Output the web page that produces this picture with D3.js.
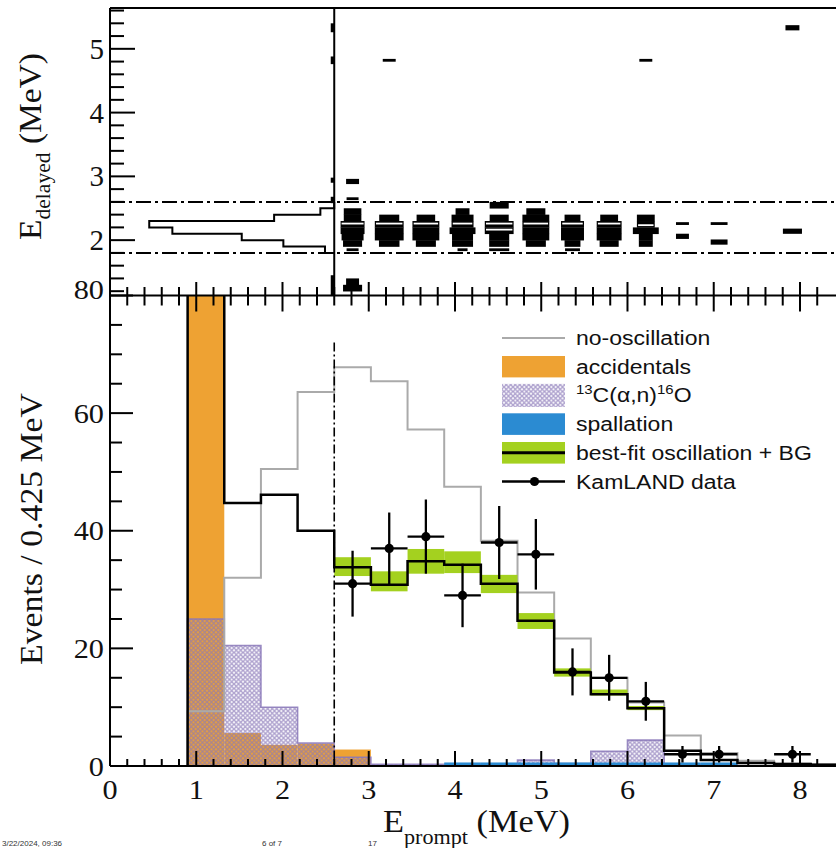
<!DOCTYPE html>
<html><head><meta charset="utf-8">
<script src="https://cdn.jsdelivr.net/npm/d3@7"></script>
<style>body{margin:0;background:#fff} svg{display:block}</style>
</head><body>
<svg id="c" width="836" height="848"></svg>
<script>
// ================= DATA =================
const binStart = 0.9, binWidth = 0.425;          // E_prompt bins (MeV)
const noOscillation = [9.3, 32.0, 50.5, 63.6, 67.8, 65.4, 57.2, 47.5, 38.3, 29.5, 21.7, 15.0, 10.8, 5.2, 2.2, 0.9, 0.5, 0.3];
const accidentals   = [140, 5.6, 3.6, 3.8, 2.8, 0.1, 0.1, 0.1, 0.1, 0.1, 0.1, 0.1, 0.1, 0, 0, 0, 0, 0];
const c13an         = [25.0, 20.5, 10.0, 3.9, 1.5, 0.3, 0.3, 0.3, 0.3, 1.0, 0.4, 2.5, 4.4, 0.3, 0.1, 0, 0, 0];
const spallation    = [0, 0, 0, 0, 0, 0, 0, 0.6, 0.6, 0.6, 0.6, 0.6, 0.6, 0.6, 0.6, 0, 0, 0];
const bestFit       = [180, 44.7, 46.1, 40.0, 33.8, 30.8, 34.8, 34.2, 31.0, 24.7, 15.9, 12.2, 9.8, 2.6, 1.0, 0.5, 0.3, 0.2];
const bandLow       = [null, null, null, null, 32.3, 29.7, 32.7, 32.8, 29.4, 23.3, 15.2, 12.0, 9.5, null, null, null, null, null];
const bandHigh      = [null, null, null, null, 35.5, 33.1, 36.9, 36.5, 32.5, 26.0, 16.6, 13.0, 10.2, null, null, null, null, null];
const dataBins   = [4, 5, 6, 7, 8, 9, 10, 11, 12, 13, 14, 16];
const dataCounts = [31, 37, 39, 29, 38, 36, 16, 15, 11, 2, 2, 2];
const dataErrors = [5.6, 6.1, 6.3, 5.4, 6.2, 6.0, 4.0, 3.9, 3.3, 1.4, 1.4, 1.4];

// delayed-energy projection (0.1 MeV bins from 1.8 to 2.6)
const projLowEdges = [1.8, 1.9, 2.0, 2.1, 2.2, 2.3, 2.4, 2.5];
const projCounts   = [2, 11, 20, 35, 40, 13, 3, 0];

// prompt-delayed box histogram: [E_prompt bin, E_delayed low edge (0.1 MeV cells), content]
const boxCells = [
  [4,2.4,7.2],[4,2.3,7.2],[4,2.2,9.8],[4,2.1,9.8],[4,2.0,9.0],[4,1.9,7.8],[4,1.3,5.3],[4,1.2,7.8],
  [5,2.3,8.2],[5,2.2,11.8],[5,2.1,11.8],[5,2.0,11.8],[5,1.9,8.4],
  [6,2.3,7.6],[6,2.2,11.0],[6,2.1,11.0],[6,2.0,11.0],[6,1.9,8.2],
  [7,2.4,5.7],[7,2.3,9.0],[7,2.2,9.0],[7,2.1,10.6],[7,2.0,8.6],[7,1.9,8.6],
  [8,2.5,7.8],[8,2.3,7.8],[8,2.2,11.8],[8,2.1,11.8],[8,2.0,8.2],[8,1.9,8.2],
  [9,2.4,7.8],[9,2.3,11.0],[9,2.2,11.0],[9,2.1,11.0],[9,2.0,11.0],[9,1.9,8.2],
  [10,2.3,6.5],[10,2.2,9.4],[10,2.1,9.4],[10,2.0,9.4],[10,1.9,6.5],
  [11,2.3,7.3],[11,2.2,10.2],[11,2.1,10.2],[11,2.0,10.2],[11,1.9,7.8],
  [12,2.3,7.3],[12,2.2,7.3],[12,2.1,10.6],[12,2.0,5.7],[12,1.9,5.7]
];
// isolated events: [E_prompt bin, E_delayed, content, events]
const singleEvents = [
  [4,2.92,5.3,2],[4,2.65,4.9,1],[4,1.85,4.9,1],[5,4.82,5.3,1],[7,1.85,4.1,1],[8,1.85,8.2,1],
  [10,1.85,6.1,1],[12,4.82,5.3,1],[13,2.26,5.3,1],[13,2.06,5.3,2],[14,2.26,6.9,1],[14,1.97,6.9,2],
  [16,2.14,7.8,2],[16,5.33,5.7,2]
];
// light separations inside boxes: [E_prompt bin, E_delayed, content]
const whiteLines = [[4,2.26,9.0],[5,2.26,10.8],[6,2.26,10.0],[7,2.26,8.0],[8,2.26,10.8],[8,2.165,10.8],
  [9,2.26,10.0],[10,2.26,8.4],[11,2.26,9.2],[12,2.235,6.3]];
// marks on the E_prompt = 2.6 line: [low, high] E_delayed
const edgeMarks = [[5.26,5.40],[4.76,4.88],[2.90,2.98],[2.58,2.68],[1.14,1.45]];

const promptCut = 2.6, delayedCuts = [1.8, 2.6];
const xTickLabels = [0,1,2,3,4,5,6,7,8];
const yBotTickLabels = [0,20,40,60,80];
const yTopTickLabels = [2,3,4,5];
const legendItems = ["no-oscillation","accidentals","13C","spallation","best-fit oscillation + BG","KamLAND data"];
const footerTexts = ["3/22/2024, 09:36", "6 of 7", "17"];

// ================= DRAW =================
const svg = d3.select("#c");
const SERIF = "'Liberation Serif','Times New Roman',serif";
const SANS = "'Liberation Sans',Arial,sans-serif";
const orange = "#eea233", purple = "#8a78b8", blue = "#2b8bd2", green = "#a4d11f", grey = "#aaaaaa";

const x = d3.scaleLinear().domain([0, 8.5]).range([110, 843.1]);
const yTop = d3.scaleLinear().domain([1.14, 5.64]).range([295, 8]);
const yBot = d3.scaleLinear().domain([0, 80]).range([766, 295.5]);
const edge = i => binStart + i * binWidth;
const bw = x(binWidth) - x(0);
const boxScale = d3.scaleLinear().domain([0, 15]).range([0, bw]);
const projScale = d3.scaleLinear().domain([0, 40]).range([0, 185]);

function stretch(sel, f) {
  sel.each(function(){ const L = this.getComputedTextLength(); this.setAttribute("textLength", L*f); this.setAttribute("lengthAdjust","spacingAndGlyphs"); });
}

const defs = svg.append("defs");
defs.append("clipPath").attr("id","cb").append("rect").attr("x",110).attr("y",295.5).attr("width",740).attr("height",470.5);
defs.append("clipPath").attr("id","ct").append("rect").attr("x",110).attr("y",8).attr("width",740).attr("height",287);
const pat = defs.append("pattern").attr("id","hatch").attr("patternUnits","userSpaceOnUse").attr("width",4.5).attr("height",4.5);
pat.append("path").attr("d","M0,0L4.5,4.5M4.5,0L0,4.5").attr("stroke",purple).attr("stroke-width",1.4).attr("opacity",0.7);

// ---------- bottom panel ----------
const gb = svg.append("g").attr("clip-path","url(#cb)");
const idx = d3.range(noOscillation.length);
gb.selectAll(".acc").data(idx).join("rect")
  .attr("x", i=>x(edge(i))).attr("width", bw).attr("y", i=>yBot(accidentals[i])).attr("height", i=>yBot(0)-yBot(accidentals[i])).attr("fill", orange);
gb.selectAll(".c13").data(idx.filter(i=>c13an[i]>0)).join("rect")
  .attr("x", i=>x(edge(i))).attr("width", bw).attr("y", i=>yBot(c13an[i])).attr("height", i=>yBot(0)-yBot(c13an[i])).attr("fill","url(#hatch)");
function stepPts(vals) {
  const pts = [[x(edge(0)), yBot(0)]];
  vals.forEach((v,i)=>{ pts.push([x(edge(i)), yBot(v)]); pts.push([x(edge(i+1)), yBot(v)]); });
  pts.push([x(edge(vals.length)), yBot(0)]);
  return pts;
}
const line = d3.line();
gb.append("path").attr("d", line(stepPts(c13an))).attr("fill","none").attr("stroke",purple).attr("stroke-width",1.6).attr("opacity",0.85);
gb.selectAll(".sp").data(idx.filter(i=>spallation[i]>0)).join("rect")
  .attr("x", i=>x(edge(i))).attr("width", bw).attr("y", i=>yBot(spallation[i])).attr("height", i=>yBot(0)-yBot(spallation[i])).attr("fill", blue);
gb.append("path").attr("d", line(stepPts(noOscillation))).attr("fill","none").attr("stroke",grey).attr("stroke-width",2);
gb.selectAll(".band").data(idx.filter(i=>bandLow[i]!==null)).join("rect")
  .attr("x", i=>x(edge(i))).attr("width", bw).attr("y", i=>yBot(bandHigh[i])).attr("height", i=>yBot(bandLow[i])-yBot(bandHigh[i])).attr("fill", green);
gb.append("path").attr("d", line(stepPts(bestFit))).attr("fill","none").attr("stroke","#000").attr("stroke-width",2.5);
gb.append("line").attr("x1",x(promptCut)).attr("x2",x(promptCut)).attr("y1",yBot(72)).attr("y2",yBot(0))
  .attr("stroke","#000").attr("stroke-width",1.6).attr("stroke-dasharray","9,3,2,3");
const dp = gb.append("g");
dataBins.forEach((k,j)=>{
  const cx = x(edge(k)+binWidth/2), cy = yBot(dataCounts[j]);
  dp.append("line").attr("x1",x(edge(k))).attr("x2",x(edge(k+1))).attr("y1",cy).attr("y2",cy).attr("stroke","#000").attr("stroke-width",2.3);
  dp.append("line").attr("x1",cx).attr("x2",cx).attr("y1",yBot(dataCounts[j]+dataErrors[j])).attr("y2",yBot(Math.max(0,dataCounts[j]-dataErrors[j]))).attr("stroke","#000").attr("stroke-width",2.3);
  dp.append("circle").attr("cx",cx).attr("cy",cy).attr("r",4.6).attr("fill","#000");
});

// legend
const lg = svg.append("g");
const lx0 = 502, lx1 = 565, ltx = 576, ly0 = 338, lstep = 28.7;
legendItems.forEach((name,i)=>{
  const cy = ly0 + i*lstep;
  if (i===0) lg.append("line").attr("x1",lx0).attr("x2",lx1).attr("y1",cy).attr("y2",cy).attr("stroke",grey).attr("stroke-width",2);
  if (i===1) lg.append("rect").attr("x",lx0).attr("y",cy-10.7).attr("width",lx1-lx0).attr("height",21.4).attr("fill",orange);
  if (i===2) lg.append("rect").attr("x",lx0).attr("y",cy-11.5).attr("width",lx1-lx0).attr("height",23).attr("fill","url(#hatch)");
  if (i===3) lg.append("rect").attr("x",lx0).attr("y",cy-10.8).attr("width",lx1-lx0).attr("height",21.6).attr("fill",blue);
  if (i===4) { lg.append("rect").attr("x",lx0).attr("y",cy-10.8).attr("width",lx1-lx0).attr("height",21.6).attr("fill",green);
               lg.append("line").attr("x1",lx0).attr("x2",lx1).attr("y1",cy).attr("y2",cy).attr("stroke","#000").attr("stroke-width",3); }
  if (i===5) { lg.append("line").attr("x1",lx0).attr("x2",lx1).attr("y1",cy).attr("y2",cy).attr("stroke","#000").attr("stroke-width",2.3);
               lg.append("circle").attr("cx",(lx0+lx1)/2+1).attr("cy",cy).attr("r",4.6).attr("fill","#000"); }
  const t = lg.append("text").attr("x",ltx).attr("y",cy+7).attr("font-family",SANS).attr("font-size",20).attr("fill","#111");
  if (i===2) {
    t.append("tspan").text("13").attr("font-size",13).attr("dy",-8);
    t.append("tspan").text("C(α,n)").attr("font-size",20).attr("dy",8);
    t.append("tspan").text("16").attr("font-size",13).attr("dy",-8);
    t.append("tspan").text("O").attr("font-size",20).attr("dy",8);
  } else t.text(name);
  stretch(t, 1.15);
});

// axes
const ax = svg.append("g").attr("stroke","#000").attr("stroke-width",2);
ax.append("line").attr("x1",110).attr("x2",843).attr("y1",766).attr("y2",766);
ax.append("line").attr("x1",110).attr("x2",110).attr("y1",8).attr("y2",766);
ax.append("line").attr("x1",110).attr("x2",843).attr("y1",295.5).attr("y2",295.5);
ax.append("line").attr("x1",110).attr("x2",843).attr("y1",8).attr("y2",8);
const xt = d3.range(0, 42).map(i=>i*0.2);
xt.forEach(v=>{
  const maj = Math.abs(v-Math.round(v))<1e-6, px = x(v);
  ax.append("line").attr("x1",px).attr("x2",px).attr("y1",766).attr("y2",766-(maj?15:7));
  ax.append("line").attr("x1",px).attr("x2",px).attr("y1",295.5).attr("y2",295.5+(maj?16:10));
  ax.append("line").attr("x1",px).attr("x2",px).attr("y1",295).attr("y2",295-(maj?13:8));
});
d3.range(0,17).map(i=>i*5).forEach(v=>{
  const maj = v%20===0, py = yBot(v);
  ax.append("line").attr("x1",110).attr("x2",110+(maj?23:12)).attr("y1",py).attr("y2",py);
});
d3.range(0,23).map(i=>1.2+i*0.2).forEach(v=>{
  const maj = Math.abs(v-Math.round(v))<1e-6, py = yTop(v);
  ax.append("line").attr("x1",110).attr("x2",110+(maj?25:14)).attr("y1",py).attr("y2",py);
});
const lab = svg.append("g").attr("font-family",SERIF).attr("fill","#111");
xTickLabels.forEach(v=>{
  const t = lab.append("text").attr("x",x(v)).attr("y",799).attr("text-anchor","middle").attr("font-size",27).text(v);
  stretch(t,1.12);
});
yBotTickLabels.forEach(v=>{
  const t = lab.append("text").attr("x",104).attr("y",yBot(v)+9.5-(v===80?6:0)).attr("text-anchor","end").attr("font-size",27).text(v);
  stretch(t,1.12);
});
yTopTickLabels.forEach(v=>{
  lab.append("text").attr("x",104).attr("y",yTop(v)+10).attr("text-anchor","end").attr("font-size",29).text(v);
});
// axis titles
const xtT = lab.append("text").attr("x",383).attr("y",832).attr("font-size",31);
xtT.append("tspan").text("E");
xtT.append("tspan").text("prompt").attr("font-size",20).attr("dy",12);
xtT.append("tspan").text(" (MeV)").attr("dy",-12);
xtT.attr("textLength",187).attr("lengthAdjust","spacingAndGlyphs");
const ybT = lab.append("text").attr("transform","translate(42,529) rotate(-90)").attr("text-anchor","middle").attr("font-size",31).text("Events / 0.425 MeV");
ybT.attr("textLength",272).attr("lengthAdjust","spacingAndGlyphs");
const ytT = lab.append("text").attr("transform","translate(41,240) rotate(-90)").attr("font-size",31);
ytT.append("tspan").text("E");
ytT.append("tspan").text("delayed").attr("font-size",20).attr("dy",9);
ytT.append("tspan").text(" (MeV)").attr("dy",-9);
ytT.attr("textLength",187).attr("lengthAdjust","spacingAndGlyphs");

// ---------- top panel ----------
const gt = svg.append("g").attr("clip-path","url(#ct)");
gt.append("line").attr("x1",x(promptCut)).attr("x2",x(promptCut)).attr("y1",8).attr("y2",295).attr("stroke","#000").attr("stroke-width",2);
edgeMarks.forEach(m=>gt.append("rect").attr("x",x(promptCut)-3.5).attr("width",3.5).attr("y",yTop(m[1])).attr("height",yTop(m[0])-yTop(m[1])).attr("fill","#000"));
delayedCuts.forEach(e=>gt.append("line").attr("x1",110).attr("x2",843).attr("y1",yTop(e)).attr("y2",yTop(e))
  .attr("stroke","#000").attr("stroke-width",2).attr("stroke-dasharray","15,4,3,4"));
const x0p = x(promptCut);
const pp = [[x0p, yTop(2.6)]];
for (let j = projCounts.length-1; j>=0; j--) {
  const lo = projLowEdges[j], hi = lo+0.1, xp = x0p - projScale(projCounts[j]);
  pp.push([xp, yTop(hi)]); pp.push([xp, yTop(lo)]);
}
pp.push([x0p, yTop(1.8)]);
gt.append("path").attr("d", line(pp)).attr("fill","none").attr("stroke","#000").attr("stroke-width",2);
const cxOf = k => x(edge(k)+binWidth/2);
gt.selectAll(".box").data(boxCells).join("rect")
  .attr("x", d=>cxOf(d[0])-boxScale(d[2])/2).attr("width", d=>boxScale(d[2]))
  .attr("y", d=>yTop(d[1]+0.1)).attr("height", d=>yTop(d[1])-yTop(d[1]+0.1)+0.3).attr("fill","#000");
gt.selectAll(".wl").data(whiteLines).join("rect")
  .attr("x", d=>cxOf(d[0])-boxScale(d[2])/2).attr("width", d=>boxScale(d[2]))
  .attr("y", d=>yTop(d[1])-0.9).attr("height",1.8).attr("fill","#fff");
gt.selectAll(".se").data(singleEvents).join("rect")
  .attr("x", d=>cxOf(d[0])-boxScale(d[2])/2).attr("width", d=>boxScale(d[2]))
  .attr("y", d=>yTop(d[1])-(d[3]===1?1.4:2.6)).attr("height", d=>d[3]===1?2.8:5.2).attr("fill","#000");

// footer line at the page bottom
const ft = svg.append("g").attr("font-family",SANS).attr("font-size",8).attr("fill","#333");
[2, 262, 368].forEach((px,i)=>ft.append("text").attr("x",px).attr("y",846).text(footerTexts[i]));
</script>
</body></html>
